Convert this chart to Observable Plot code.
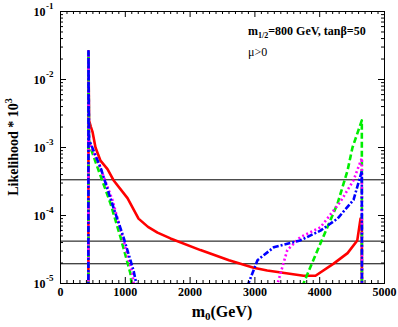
<!DOCTYPE html>
<html>
<head>
<meta charset="utf-8">
<script src="https://cdn.jsdelivr.net/npm/d3@7"></script>
<script src="https://cdn.jsdelivr.net/npm/@observablehq/plot@0.6"></script>
<style>
  html, body { margin: 0; padding: 0; background: #fff; }
  #chart svg { display: block; }
</style>
</head>
<body>
<div id="chart"></div>
<script>
// ---- data ----
const xMajorTicks = [0, 1000, 2000, 3000, 4000, 5000];
const yMajorTicks = [1e-5, 1e-4, 1e-3, 1e-2, 1e-1];
const referenceLevels = [3.35e-4, 4.2e-5, 1.95e-5];

// red (solid)
const redM0 = [430, 432, 440, 470, 494, 540, 617, 725, 818, 1034, 1204, 1350, 1497, 1697, 2160, 2600, 2980, 3190, 3750, 3935, 4215, 4430, 4580, 4630, 4650, 4652];
const redL  = [5e-6, 2.6e-2, 2.5e-3, 2.0e-3, 1.7e-3, 1.0e-3, 6.4e-4, 4.8e-4, 3.3e-4, 1.8e-4, 9e-5, 6.8e-5, 5.6e-5, 4.6e-5, 3.1e-5, 2.2e-5, 1.7e-5, 1.55e-5, 1.3e-5, 1.3e-5, 1.96e-5, 2.8e-5, 4.3e-5, 9e-5, 9e-5, 5e-6];

// green (dashed) – left and right branches
const greenLeftM0 = [430, 432, 440, 463, 571, 772, 926, 1080, 1100];
const greenLeftL  = [5e-6, 2.6e-2, 1.3e-3, 1.0e-3, 5.1e-4, 1.5e-4, 4.8e-5, 1.4e-5, 9e-6];
const greenRightM0 = [3740, 3750, 4012, 4275, 4430, 4506, 4650, 4652];
const greenRightL  = [9e-6, 1e-5, 3.9e-5, 1.5e-4, 4.6e-4, 1.0e-3, 2.5e-3, 5e-6];

// magenta (dotted)
const magentaLeftM0 = [430, 432, 440, 475, 600, 800, 950, 1110, 1135];
const magentaLeftL  = [5e-6, 2.6e-2, 1.2e-3, 1.0e-3, 5.5e-4, 1.7e-4, 5.2e-5, 1.4e-5, 9e-6];
const magentaRightM0 = [3340, 3350, 3500, 3700, 4012, 4321, 4522, 4650, 4652];
const magentaRightL  = [9e-6, 1e-5, 3.1e-5, 4.8e-5, 6.7e-5, 1.6e-4, 3.3e-4, 7e-4, 5e-6];

// blue (dash-dot)
const blueLeftM0 = [430, 432, 440, 490, 617, 818, 972, 1127, 1180];
const blueLeftL  = [5e-6, 2.6e-2, 1.3e-3, 1.0e-3, 5.1e-4, 1.3e-4, 4.8e-5, 1.55e-5, 9e-6];
const blueRightM0 = [2890, 2900, 3040, 3290, 3700, 4012, 4275, 4522, 4650, 4652];
const blueRightL  = [9e-6, 1e-5, 2.2e-5, 3.4e-5, 4.3e-5, 6e-5, 9e-5, 1.7e-4, 4.5e-4, 5e-6];

// ---- build tables ----
function rows(m0, L, seg) { return m0.map((m, i) => ({m0: m, L: L[i], seg})); }
const red = rows(redM0, redL, "a");
const green = rows(greenLeftM0, greenLeftL, "a").concat(rows(greenRightM0, greenRightL, "b"));
const magenta = rows(magentaLeftM0, magentaLeftL, "a").concat(rows(magentaRightM0, magentaRightL, "b"));
const blue = rows(blueLeftM0, blueLeftL, "a").concat(rows(blueRightM0, blueRightL, "b"));

const xMinorTicks = d3.range(0, 5001, 100).filter(v => v % 1000 !== 0);
const yMinorTicks = [];
for (let e = -5; e <= -2; e++) for (let k = 2; k <= 9; k++) yMinorTicks.push(k * Math.pow(10, e));

const W = 398, H = 327, mL = 60, mR = 14, mT = 11, mB = 44;
const fw = W - mL - mR, fh = H - mT - mB;
const serif = "'Liberation Serif', 'DejaVu Serif', serif";

const plot = Plot.plot({
  width: W, height: H,
  marginLeft: mL, marginRight: mR, marginTop: mT, marginBottom: mB,
  style: {background: "#fff", fontFamily: serif},
  x: {domain: [0, 5000], axis: null},
  y: {type: "log", domain: [1e-5, 1e-1], axis: null},
  marks: [
    Plot.ruleY(referenceLevels, {stroke: "#000", strokeWidth: 1}),
    Plot.line(red, {x: "m0", y: "L", z: "seg", stroke: "#ff0000", strokeWidth: 2.6, clip: true}),
    Plot.line(green, {x: "m0", y: "L", z: "seg", stroke: "#00ee00", strokeWidth: 2.6, strokeDasharray: "6,3", strokeLinecap: "butt", clip: true}),
    Plot.line(magenta, {x: "m0", y: "L", z: "seg", stroke: "#ff00ff", strokeWidth: 2.6, strokeDasharray: "2,2.5", strokeLinecap: "butt", clip: true}),
    Plot.line(blue, {x: "m0", y: "L", z: "seg", stroke: "#0000ff", strokeWidth: 2.6, strokeDasharray: "6,2,2,2", strokeLinecap: "butt", clip: true}),
    Plot.frame({stroke: "#000", strokeWidth: 1}),
    // inward ticks, bottom & top
    Plot.ruleX(xMajorTicks, {x: d => d, insetTop: fh - 6, stroke: "#000"}),
    Plot.ruleX(xMinorTicks, {x: d => d, insetTop: fh - 3, stroke: "#000"}),
    Plot.ruleX(xMajorTicks, {x: d => d, insetBottom: fh - 6, stroke: "#000"}),
    Plot.ruleX(xMinorTicks, {x: d => d, insetBottom: fh - 3, stroke: "#000"}),
    // inward ticks, left & right
    Plot.ruleY(yMajorTicks, {y: d => d, insetRight: fw - 6, stroke: "#000"}),
    Plot.ruleY(yMinorTicks, {y: d => d, insetRight: fw - 3, stroke: "#000"}),
    Plot.ruleY(yMajorTicks, {y: d => d, insetLeft: fw - 6, stroke: "#000"}),
    Plot.ruleY(yMinorTicks, {y: d => d, insetLeft: fw - 3, stroke: "#000"}),
    // x tick labels
    Plot.text(xMajorTicks, {x: d => d, frameAnchor: "bottom", dy: 12, text: d => String(d), fontSize: 12, fontWeight: "bold", fill: "#000"}),
    // y tick labels: "10" + superscript exponent
    Plot.text(yMajorTicks, {y: d => d, frameAnchor: "left", dx: -15, dy: 1, text: () => "10", textAnchor: "end", fontSize: 12, fontWeight: "bold", fill: "#000"}),
    Plot.text(yMajorTicks, {y: d => d, frameAnchor: "left", dx: -14.5, dy: -5, text: d => "-" + Math.round(-Math.log10(d)), textAnchor: "start", fontSize: 9, fontWeight: "bold", fill: "#000"})
  ]
});

document.getElementById("chart").appendChild(plot);

// text with sub/superscripts
const svg = d3.select(plot);
const xl = svg.append("text")
  .attr("x", mL + fw / 2).attr("y", 317)
  .attr("text-anchor", "middle")
  .attr("font-family", serif).attr("font-weight", "bold").attr("font-size", 16).attr("fill", "#000");
xl.append("tspan").text("m");
xl.append("tspan").attr("font-size", 11).attr("dy", 3).text("0");
xl.append("tspan").attr("dy", -3).text("(GeV)");

const yl = svg.append("text")
  .attr("transform", `translate(18,${mT + fh / 2}) rotate(-90)`)
  .attr("text-anchor", "middle")
  .attr("font-family", serif).attr("font-weight", "bold").attr("font-size", 14).attr("fill", "#000");
yl.append("tspan").text("Likelihood * 10");
yl.append("tspan").attr("font-size", 10).attr("dy", -6).text("3");

const an = svg.append("text")
  .attr("x", 248).attr("y", 35)
  .attr("text-anchor", "start")
  .attr("font-family", serif).attr("font-weight", "bold").attr("font-size", 12).attr("fill", "#000");
an.append("tspan").text("m");
an.append("tspan").attr("font-size", 8).attr("dy", 3).text("1/2");
an.append("tspan").attr("dy", -3).text("=800 GeV, tanβ=50");

svg.append("text")
  .attr("x", 248).attr("y", 56)
  .attr("text-anchor", "start")
  .attr("font-family", serif).attr("font-size", 12).attr("fill", "#000")
  .text("μ>0");
</script>
</body>
</html>
